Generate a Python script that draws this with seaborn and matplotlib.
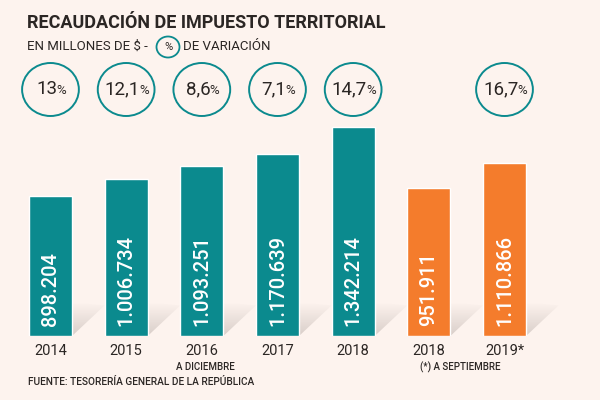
import numpy as np
import pandas as pd
import matplotlib
matplotlib.use("Agg")
import matplotlib.pyplot as plt
import matplotlib.transforms as mtransforms
from matplotlib.patches import Ellipse, Polygon
import seaborn as sns

# Data
periodos = ["2014", "2015", "2016", "2017", "2018", "2018 sep", "2019 sep"]
etiquetas = ["2014", "2015", "2016", "2017", "2018", "2018", "2019*"]
recaudacion = [898204, 1006734, 1093251, 1170639, 1342214, 951911, 1110866]
grupo = ["anual", "anual", "anual", "anual", "anual", "septiembre", "septiembre"]
variacion = ["13", "12,1", "8,6", "7,1", "14,7", None, "16,7"]

TEAL = "#0B8A8E"
ORANGE = "#F47C2C"
BG = "#FDF3EE"
DARK = "#2B2624"

df = pd.DataFrame({"periodo": periodos, "valor": recaudacion, "grupo": grupo})

sns.set_theme(style="white")
plt.rcParams["font.family"] = ["Roboto", "DejaVu Sans"]

fig = plt.figure(figsize=(6, 4), dpi=100, facecolor=BG)
ax = fig.add_axes([0, 64 / 400, 1, 336 / 400])
ax.set_facecolor(BG)

sns.barplot(data=df, x="periodo", y="valor", hue="grupo",
            palette={"anual": TEAL, "septiembre": ORANGE},
            width=0.57, dodge=False, legend=False, ax=ax, saturation=1)

ymax = 2158000
for s in ax.spines.values():
    s.set_visible(False)
ax.set_yticks([])
ax.set_ylabel("")
ax.set_xlabel("")
ax.set_xticks(range(len(etiquetas)))
ax.set_xticklabels(etiquetas, fontsize=10.5, color=DARK)
ax.tick_params(axis="x", length=0, pad=6)

# shadows at bottom right of each bar
px = ymax / 336
grad = np.zeros((64, 1, 4))
grad[..., 0] = 0.55
grad[..., 1] = 0.50
grad[..., 2] = 0.48
grad[:, 0, 3] = np.linspace(0.32, 0.0, 64)
for i in range(len(recaudacion)):
    xr = i + 0.285
    h = 34 * px
    tri = Polygon([(xr, 0), (xr + 0.43, h * 0.9), (xr, h)], closed=True,
                  transform=ax.transData, facecolor="none", edgecolor="none")
    ax.add_patch(tri)
    im = ax.imshow(grad, extent=[xr, xr + 0.43, 0, h], origin="lower",
                   aspect="auto", zorder=0.5)
    im.set_clip_path(tri)
ax.set_ylim(0, ymax)
ax.set_xlim(-0.667, 7.262)

# values inside bars
for i, v in enumerate(recaudacion):
    ax.text(i, 10 * px, f"{v:,}".replace(",", "."), rotation=90,
            ha="center", va="bottom", color="white", fontsize=14.5,
            fontweight="medium")

# variation circles
trans = mtransforms.blended_transform_factory(ax.transData, ax.transAxes)
cy = (336 - 89.5) / 336
for i, p in enumerate(variacion):
    if p is None:
        continue
    ax.add_patch(Ellipse((i, cy), 0.75, 53 / 336, transform=trans,
                         facecolor=BG, edgecolor=TEAL, lw=1.4, clip_on=False))
    t = ax.text(i - 0.05, cy, p, transform=trans, ha="center", va="center",
                fontsize=13.5, color=DARK)
    ax.annotate("%", xy=(1, 0.45), xycoords=t, xytext=(-0.5, 0),
                textcoords="offset points", ha="left", va="center",
                fontsize=9.5, color=DARK)

# titles
fig.text(27 / 600, 1 - 23 / 400, "RECAUDACIÓN DE IMPUESTO TERRITORIAL",
         fontsize=13, fontweight="bold", color=DARK, va="center", ha="left")
fig.text(27 / 600, 1 - 46 / 400, "EN MILLONES DE $ -", fontsize=9.5,
         color=DARK, va="center", ha="left")
fig.add_artist(Ellipse((168 / 600, 1 - 47 / 400), 23 / 600, 21 / 400,
                       transform=fig.transFigure, facecolor="none",
                       edgecolor=TEAL, lw=1.3))
fig.text(168 / 600, 1 - 47 / 400, "%", fontsize=8, color=DARK,
         va="center", ha="center")
fig.text(183 / 600, 1 - 46 / 400, "DE VARIACIÓN", fontsize=9.5,
         color=DARK, va="center", ha="left")

# notes
ax.text(2.05, -31 * px, "A DICIEMBRE", fontsize=7, fontweight="medium",
        color=DARK, ha="center", va="center", clip_on=False)
ax.text(5.42, -31 * px, "(*) A SEPTIEMBRE", fontsize=7, fontweight="medium",
        color=DARK, ha="center", va="center", clip_on=False)
fig.text(28 / 600, 1 - 382 / 400, "FUENTE: TESORERÍA GENERAL DE LA REPÚBLICA",
         fontsize=7.3, fontweight="medium", color=DARK, ha="left", va="center")

fig.savefig("out.png", dpi=100, facecolor=BG)
